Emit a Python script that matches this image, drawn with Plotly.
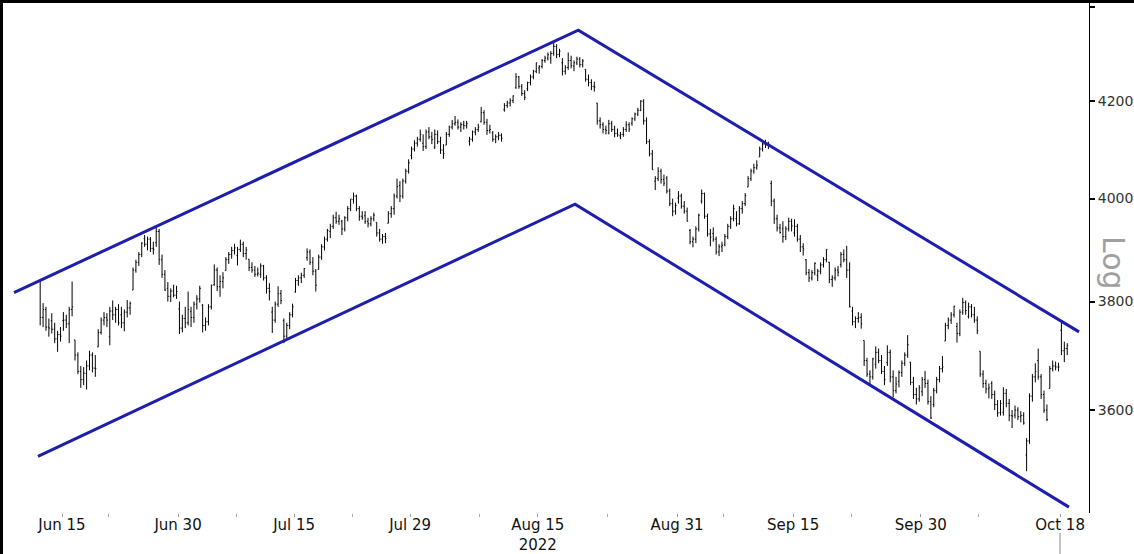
import math
import pandas as pd
import plotly.graph_objects as go

# ---------------- data ----------------
holidays = ['2022-06-20', '2022-07-04', '2022-09-05']
trade_days = [d.strftime('%Y-%m-%d') for d in pd.bdate_range('2022-06-13', '2022-10-18')
              if d.strftime('%Y-%m-%d') not in holidays]

# intraday bars, 4 per trading day (last day partial)
bar_open = [
    3838, 3770, 3785, 3752,  3764, 3748, 3730, 3738,  3764, 3765, 3758, 3785,  3728, 3700, 3670, 3655,
    3666, 3680, 3700, 3676,  3715, 3742, 3765, 3770,  3734, 3782, 3775, 3785,  3775, 3760, 3780, 3788,
    3822, 3860, 3875, 3890,  3921, 3910, 3920, 3902,  3913, 3935, 3880, 3852,  3825, 3810, 3820, 3812,
    3786, 3750, 3768, 3760,  3781, 3770, 3795, 3805,  3793, 3755, 3762, 3790,  3832, 3860, 3828, 3838,
    3859, 3880, 3890, 3898,  3888, 3900, 3910, 3892,  3881, 3865, 3860, 3852,  3852, 3868, 3845, 3825,
    3780, 3765, 3795, 3815,  3764, 3735, 3755, 3775,  3818, 3840, 3845, 3850,  3884, 3895, 3875, 3858,
    3861, 3885, 3905, 3920,  3935, 3945, 3962, 3955,  3955, 3940, 3962, 3980,  3998, 4005, 3980, 3965,
    3966, 3955, 3950, 3960,  3953, 3932, 3920, 3925,  3951, 3970, 3980, 4005,  4026, 4005, 4035, 4055,
    4087, 4100, 4112, 4120,  4112, 4105, 4135, 4125,  4104, 4130, 4115, 4098,  4108, 4130, 4145, 4152,
    4155, 4145, 4150, 4148,  4116, 4120, 4135, 4140,  4156, 4175, 4155, 4138,  4133, 4120, 4125, 4128,
    4181, 4190, 4195, 4200,  4227, 4250, 4230, 4215,  4225, 4238, 4250, 4262,  4269, 4272, 4285, 4290,
    4290, 4300, 4315, 4298,  4280, 4262, 4270, 4285,  4273, 4280, 4288, 4276,  4266, 4245, 4238, 4230,
    4195, 4158, 4150, 4140,  4133, 4152, 4140, 4132,  4127, 4130, 4140, 4150,  4153, 4162, 4172, 4180,
    4199, 4158, 4115, 4090,  4035, 4040, 4055, 4038,  4041, 4015, 3990, 3975,  4001, 4005, 3985, 3975,
    3937, 3915, 3920, 3940,  3995, 4010, 3965, 3930,  3931, 3920, 3895, 3905,  3909, 3925, 3945, 3960,
    3960, 3950, 3980, 3990,  4023, 4040, 4055, 4062,  4084, 4100, 4110, 4108,  4030, 3995, 3960, 3942,
    3941, 3925, 3940, 3955,  3932, 3945, 3920, 3905,  3880, 3855, 3845, 3855,  3850, 3858, 3870, 3880,
    3875, 3842, 3845, 3860,  3871, 3890, 3880, 3860,  3782, 3762, 3768, 3770,  3727, 3690, 3665, 3660,
    3683, 3705, 3690, 3670,  3686, 3705, 3660, 3635,  3652, 3668, 3685, 3700,  3687, 3650, 3628, 3620,
    3633, 3655, 3648, 3615,  3610, 3635, 3655, 3675,  3726, 3755, 3765, 3775,  3753, 3740, 3780, 3798,
    3772, 3790, 3775, 3765,  3707, 3665, 3648, 3638,  3648, 3628, 3610, 3595,  3596, 3630, 3612, 3590,
    3591, 3600, 3588, 3590,  3520, 3545, 3625, 3660,  3690, 3660, 3628, 3600,  3639, 3675, 3680, 3678,
    3746, 3708, 3712,
]
bar_high = [
    3838, 3797, 3790, 3768,  3778, 3760, 3745, 3752,  3780, 3775, 3790, 3838,  3728, 3705, 3680, 3678,
    3690, 3708, 3705, 3700,  3748, 3770, 3780, 3778,  3790, 3802, 3790, 3795,  3790, 3785, 3803, 3800,
    3865, 3880, 3895, 3914,  3928, 3925, 3924, 3915,  3946, 3940, 3890, 3860,  3837, 3825, 3832, 3830,
    3800, 3775, 3790, 3819,  3790, 3800, 3812, 3830,  3795, 3770, 3795, 3832,  3871, 3865, 3850, 3856,
    3885, 3895, 3905, 3911,  3905, 3919, 3915, 3905,  3881, 3875, 3868, 3865,  3873, 3870, 3850, 3835,
    3790, 3800, 3829, 3822,  3768, 3760, 3780, 3796,  3845, 3850, 3855, 3864,  3902, 3900, 3885, 3862,
    3890, 3910, 3925, 3940,  3950, 3968, 3974, 3968,  3958, 3965, 3985, 3999,  4012, 4008, 3985, 3975,
    3975, 3962, 3965, 3972,  3953, 3940, 3930, 3932,  3975, 3985, 4010, 4040,  4035, 4040, 4060, 4079,
    4105, 4118, 4125, 4140,  4130, 4140, 4145, 4135,  4140, 4138, 4125, 4110,  4135, 4148, 4160, 4168,
    4161, 4155, 4158, 4158,  4125, 4138, 4145, 4152,  4187, 4180, 4162, 4150,  4137, 4130, 4135, 4132,
    4195, 4200, 4205, 4211,  4258, 4252, 4235, 4222,  4240, 4255, 4265, 4280,  4275, 4288, 4295, 4302,
    4305, 4325, 4320, 4310,  4290, 4275, 4302, 4295,  4285, 4293, 4292, 4288,  4266, 4255, 4245, 4240,
    4195, 4165, 4155, 4148,  4160, 4158, 4148, 4142,  4135, 4145, 4157, 4155,  4165, 4175, 4185, 4201,
    4203, 4165, 4120, 4098,  4045, 4063, 4060, 4048,  4045, 4020, 4000, 3992,  4015, 4010, 3995, 3982,
    3940, 3925, 3945, 3970,  4018, 4012, 3970, 3940,  3943, 3925, 3910, 3915,  3930, 3950, 3965, 3988,
    3975, 3985, 3995, 4011,  4045, 4060, 4070, 4077,  4105, 4115, 4119, 4115,  4036, 4000, 3968, 3950,
    3955, 3945, 3962, 3960,  3959, 3950, 3928, 3912,  3881, 3862, 3860, 3875,  3862, 3875, 3885, 3900,
    3876, 3850, 3865, 3868,  3895, 3900, 3907, 3875,  3790, 3772, 3780, 3778,  3727, 3695, 3672, 3695,
    3716, 3712, 3700, 3680,  3718, 3710, 3672, 3660,  3672, 3690, 3705, 3737,  3687, 3660, 3640, 3645,
    3660, 3671, 3655, 3625,  3640, 3660, 3680, 3698,  3760, 3770, 3780, 3792,  3760, 3785, 3807, 3802,
    3798, 3795, 3790, 3772,  3707, 3672, 3655, 3648,  3652, 3635, 3618, 3618,  3641, 3638, 3620, 3600,
    3608, 3605, 3598, 3596,  3550, 3630, 3665, 3685,  3712, 3665, 3635, 3610,  3680, 3690, 3688, 3686,
    3763, 3725, 3722,
]
bar_low = [
    3755, 3752, 3745, 3734,  3740, 3722, 3706, 3725,  3745, 3750, 3722, 3772,  3690, 3665, 3640, 3645,
    3637, 3672, 3668, 3660,  3715, 3738, 3755, 3752,  3718, 3765, 3760, 3755,  3750, 3744, 3770, 3775,
    3822, 3855, 3868, 3885,  3905, 3898, 3895, 3890,  3905, 3870, 3845, 3820,  3800, 3799, 3808, 3805,
    3739, 3742, 3750, 3755,  3752, 3760, 3785, 3798,  3742, 3745, 3755, 3785,  3830, 3820, 3809, 3825,
    3859, 3872, 3882, 3890,  3869, 3895, 3885, 3880,  3858, 3855, 3847, 3848,  3845, 3840, 3815, 3802,
    3741, 3760, 3790, 3795,  3722, 3728, 3748, 3770,  3817, 3830, 3835, 3845,  3878, 3870, 3850, 3819,
    3861, 3880, 3898, 3915,  3922, 3940, 3950, 3948,  3928, 3935, 3955, 3975,  3990, 3975, 3956, 3958,
    3950, 3943, 3945, 3955,  3925, 3915, 3911, 3912,  3951, 3962, 3968, 4000,  3993, 4000, 4030, 4050,
    4079, 4095, 4105, 4115,  4096, 4100, 4120, 4110,  4100, 4110, 4090, 4080,  4108, 4125, 4140, 4148,
    4140, 4135, 4140, 4142,  4107, 4115, 4128, 4135,  4155, 4150, 4129, 4132,  4115, 4112, 4118, 4115,
    4177, 4185, 4188, 4195,  4225, 4225, 4210, 4201,  4220, 4232, 4245, 4258,  4257, 4268, 4280, 4285,
    4278, 4295, 4290, 4292,  4253, 4255, 4265, 4268,  4262, 4275, 4270, 4270,  4240, 4230, 4222, 4219,
    4150, 4142, 4132, 4130,  4130, 4135, 4124, 4125,  4120, 4125, 4135, 4135,  4148, 4158, 4168, 4178,
    4150, 4110, 4085, 4058,  4017, 4035, 4030, 4025,  4010, 3985, 3965, 3968,  3990, 3980, 3970, 3955,
    3910, 3904, 3912, 3935,  3990, 3960, 3925, 3906,  3915, 3890, 3887, 3895,  3906, 3920, 3940, 3955,
    3945, 3948, 3970, 3985,  4023, 4035, 4050, 4058,  4084, 4095, 4102, 4100,  3985, 3950, 3935, 3931,
    3913, 3918, 3935, 3935,  3925, 3915, 3895, 3888,  3850, 3837, 3840, 3850,  3839, 3852, 3865, 3875,
    3835, 3828, 3840, 3848,  3865, 3875, 3845, 3789,  3755, 3750, 3760, 3749,  3680, 3660, 3647, 3655,
    3675, 3685, 3665, 3645,  3680, 3650, 3623, 3630,  3641, 3660, 3680, 3695,  3645, 3620, 3610, 3615,
    3625, 3640, 3610, 3584,  3605, 3630, 3650, 3668,  3726, 3748, 3758, 3770,  3723, 3735, 3775, 3775,
    3768, 3770, 3760, 3739,  3660, 3640, 3630, 3621,  3620, 3600, 3588, 3590,  3590, 3605, 3580, 3568,
    3585, 3582, 3578, 3574,  3492, 3540, 3615, 3650,  3655, 3620, 3595, 3580,  3639, 3670, 3672, 3670,
    3700, 3687, 3700,
]
bar_close = [
    3770, 3785, 3752, 3750,  3748, 3730, 3738, 3735,  3765, 3758, 3785, 3790,  3700, 3670, 3655, 3667,
    3680, 3700, 3676, 3675,  3742, 3765, 3770, 3765,  3782, 3775, 3785, 3760,  3760, 3780, 3788, 3796,
    3860, 3875, 3890, 3912,  3910, 3920, 3902, 3900,  3935, 3880, 3852, 3822,  3810, 3820, 3812, 3819,
    3750, 3768, 3760, 3785,  3770, 3795, 3805, 3825,  3755, 3762, 3790, 3831,  3860, 3828, 3838, 3845,
    3880, 3890, 3898, 3903,  3900, 3910, 3892, 3899,  3865, 3860, 3852, 3854,  3868, 3845, 3825, 3819,
    3765, 3795, 3815, 3802,  3735, 3755, 3775, 3790,  3840, 3845, 3850, 3863,  3895, 3875, 3858, 3831,
    3885, 3905, 3920, 3937,  3945, 3962, 3955, 3960,  3940, 3962, 3980, 3999,  4005, 3980, 3965, 3962,
    3955, 3950, 3960, 3967,  3932, 3920, 3925, 3921,  3970, 3980, 4005, 4024,  4005, 4035, 4055, 4072,
    4100, 4112, 4120, 4130,  4105, 4135, 4125, 4119,  4130, 4115, 4098, 4091,  4130, 4145, 4152, 4155,
    4145, 4150, 4148, 4152,  4120, 4135, 4140, 4145,  4175, 4155, 4138, 4140,  4120, 4125, 4128, 4122,
    4190, 4195, 4200, 4210,  4250, 4230, 4215, 4207,  4238, 4250, 4262, 4280,  4272, 4285, 4290, 4297,
    4300, 4315, 4298, 4305,  4262, 4270, 4285, 4274,  4280, 4288, 4276, 4284,  4245, 4238, 4230, 4228,
    4158, 4150, 4140, 4138,  4152, 4140, 4132, 4129,  4130, 4140, 4150, 4141,  4162, 4172, 4180, 4199,
    4158, 4115, 4090, 4058,  4040, 4055, 4038, 4031,  4015, 3990, 3975, 3986,  4005, 3985, 3975, 3955,
    3915, 3920, 3940, 3967,  4010, 3965, 3930, 3924,  3920, 3895, 3905, 3908,  3925, 3945, 3960, 3980,
    3950, 3980, 3990, 4006,  4040, 4055, 4062, 4067,  4100, 4110, 4108, 4110,  3995, 3960, 3942, 3933,
    3925, 3940, 3955, 3946,  3945, 3920, 3905, 3901,  3855, 3845, 3855, 3873,  3858, 3870, 3880, 3900,
    3842, 3845, 3860, 3856,  3890, 3880, 3860, 3790,  3762, 3768, 3770, 3758,  3690, 3665, 3660, 3693,
    3705, 3690, 3670, 3655,  3705, 3660, 3635, 3647,  3668, 3685, 3700, 3719,  3650, 3628, 3620, 3640,
    3655, 3648, 3615, 3586,  3635, 3655, 3675, 3678,  3755, 3765, 3775, 3791,  3740, 3780, 3798, 3783,
    3790, 3775, 3765, 3745,  3665, 3648, 3638, 3640,  3628, 3610, 3595, 3612,  3630, 3612, 3590, 3589,
    3600, 3588, 3590, 3577,  3545, 3625, 3660, 3670,  3660, 3628, 3600, 3583,  3675, 3680, 3678, 3678,
    3708, 3712, 3718,
]

# trend channel (x in trading-day position, y in index points)
upper_x = [-2.14, 46.49, 89.64]
upper_y = [3817, 4350, 3743]
lower_x = [-0.07, 46.21, 88.77]
lower_y = [3518, 3989, 3430]

tick_dates = ['2022-06-15', '2022-06-30', '2022-07-15', '2022-07-29', '2022-08-15',
              '2022-08-31', '2022-09-15', '2022-09-30', '2022-10-18']
tick_text = ['Jun 15', 'Jun 30', 'Jul 15', 'Jul 29', 'Aug 15<br>2022',
             'Aug 31', 'Sep 15', 'Sep 30', 'Oct 18']
minor_dates = ['2022-06-22', '2022-07-08', '2022-07-22', '2022-08-08',
               '2022-08-23', '2022-09-07', '2022-09-22', '2022-10-07']
y_ticks = [3600, 3800, 4000, 4200, 4400]
y_text = ['3600', '3800', '4000', '4200', '']

# ---------------- figure ----------------
BARS_PER_DAY = 4
bar_x = [i // BARS_PER_DAY + (i % BARS_PER_DAY) / BARS_PER_DAY + 0.12 for i in range(len(bar_open))]
day_pos = {d: i for i, d in enumerate(trade_days)}
tick_vals = [day_pos[d] for d in tick_dates]
minor_vals = [day_pos[d] for d in minor_dates]

W, H = 1134, 554
ML, MR, MT, MB = 0, 45, 0, 41
PW, PH = W - ML - MR, H - MT - MB

fig = go.Figure()
fig.add_trace(go.Ohlc(
    x=bar_x, open=bar_open, high=bar_high, low=bar_low, close=bar_close,
    increasing=dict(line=dict(color='black', width=1)),
    decreasing=dict(line=dict(color='black', width=1)),
    tickwidth=0.35, hoverinfo='skip', showlegend=False,
))
blue = '#1e1eae'
fig.add_trace(go.Scatter(x=upper_x, y=upper_y, mode='lines',
                         line=dict(color=blue, width=3), hoverinfo='skip', showlegend=False))
fig.add_trace(go.Scatter(x=lower_x, y=lower_y, mode='lines',
                         line=dict(color=blue, width=3), hoverinfo='skip', showlegend=False))

fig.update_layout(
    width=W, height=H,
    margin=dict(l=ML, r=MR, t=MT, b=MB, pad=0, autoexpand=False),
    paper_bgcolor='white', plot_bgcolor='white',
    font=dict(family='DejaVu Sans', size=14, color='#111'),
    showlegend=False,
    xaxis=dict(
        range=[-3.3425, 90.497], rangeslider=dict(visible=False),
        automargin=False,
        showgrid=False, zeroline=False, showline=False,
        tickmode='array', tickvals=tick_vals, ticktext=tick_text,
        ticks='outside', ticklen=3, tickcolor='#999', tickwidth=1,
        ticklabelstandoff=-5,
        tickfont=dict(size=15, color='#111'),
        minor=dict(tickmode='array', tickvals=minor_vals, ticks='outside',
                   ticklen=3, tickcolor='#aaa', tickwidth=1),
    ),
    yaxis=dict(
        type='log', side='right', automargin=False,
        range=[math.log10(3420), math.log10(4416)],
        showgrid=False, zeroline=False,
        showline=True, linecolor='black', linewidth=1,
        tickmode='array', tickvals=y_ticks, ticktext=y_text,
        ticks='outside', ticklen=5, tickcolor='black', tickwidth=2,
        tickfont=dict(size=14, color='#333'),
    ),
    annotations=[dict(
        text='Log', xref='paper', yref='paper',
        x=1113.5 / PW, y=1 - 262.5 / PH, xanchor='center', yanchor='middle',
        textangle=90, showarrow=False,
        font=dict(family='DejaVu Sans', size=30, color='#a0a0a0'),
    )],
    shapes=[
        # frame: top and left border
        dict(type='rect', xref='paper', yref='paper', x0=0, x1=W / PW, y0=1 - 3 / PH, y1=1,
             fillcolor='black', line=dict(width=0), layer='above'),
        dict(type='rect', xref='paper', yref='paper', x0=0, x1=3 / PW, y0=-MB / PH, y1=1,
             fillcolor='black', line=dict(width=0), layer='above'),
        # cursor mark under the last date label
        dict(type='line', xref='x', yref='paper', x0=tick_vals[-1], x1=tick_vals[-1],
             y0=-20 / PH, y1=-MB / PH, line=dict(color='#888', width=1)),
    ],
)

fig.write_html("out.html", config={'displayModeBar': False},
               post_script="document.body.style.margin='0';")
